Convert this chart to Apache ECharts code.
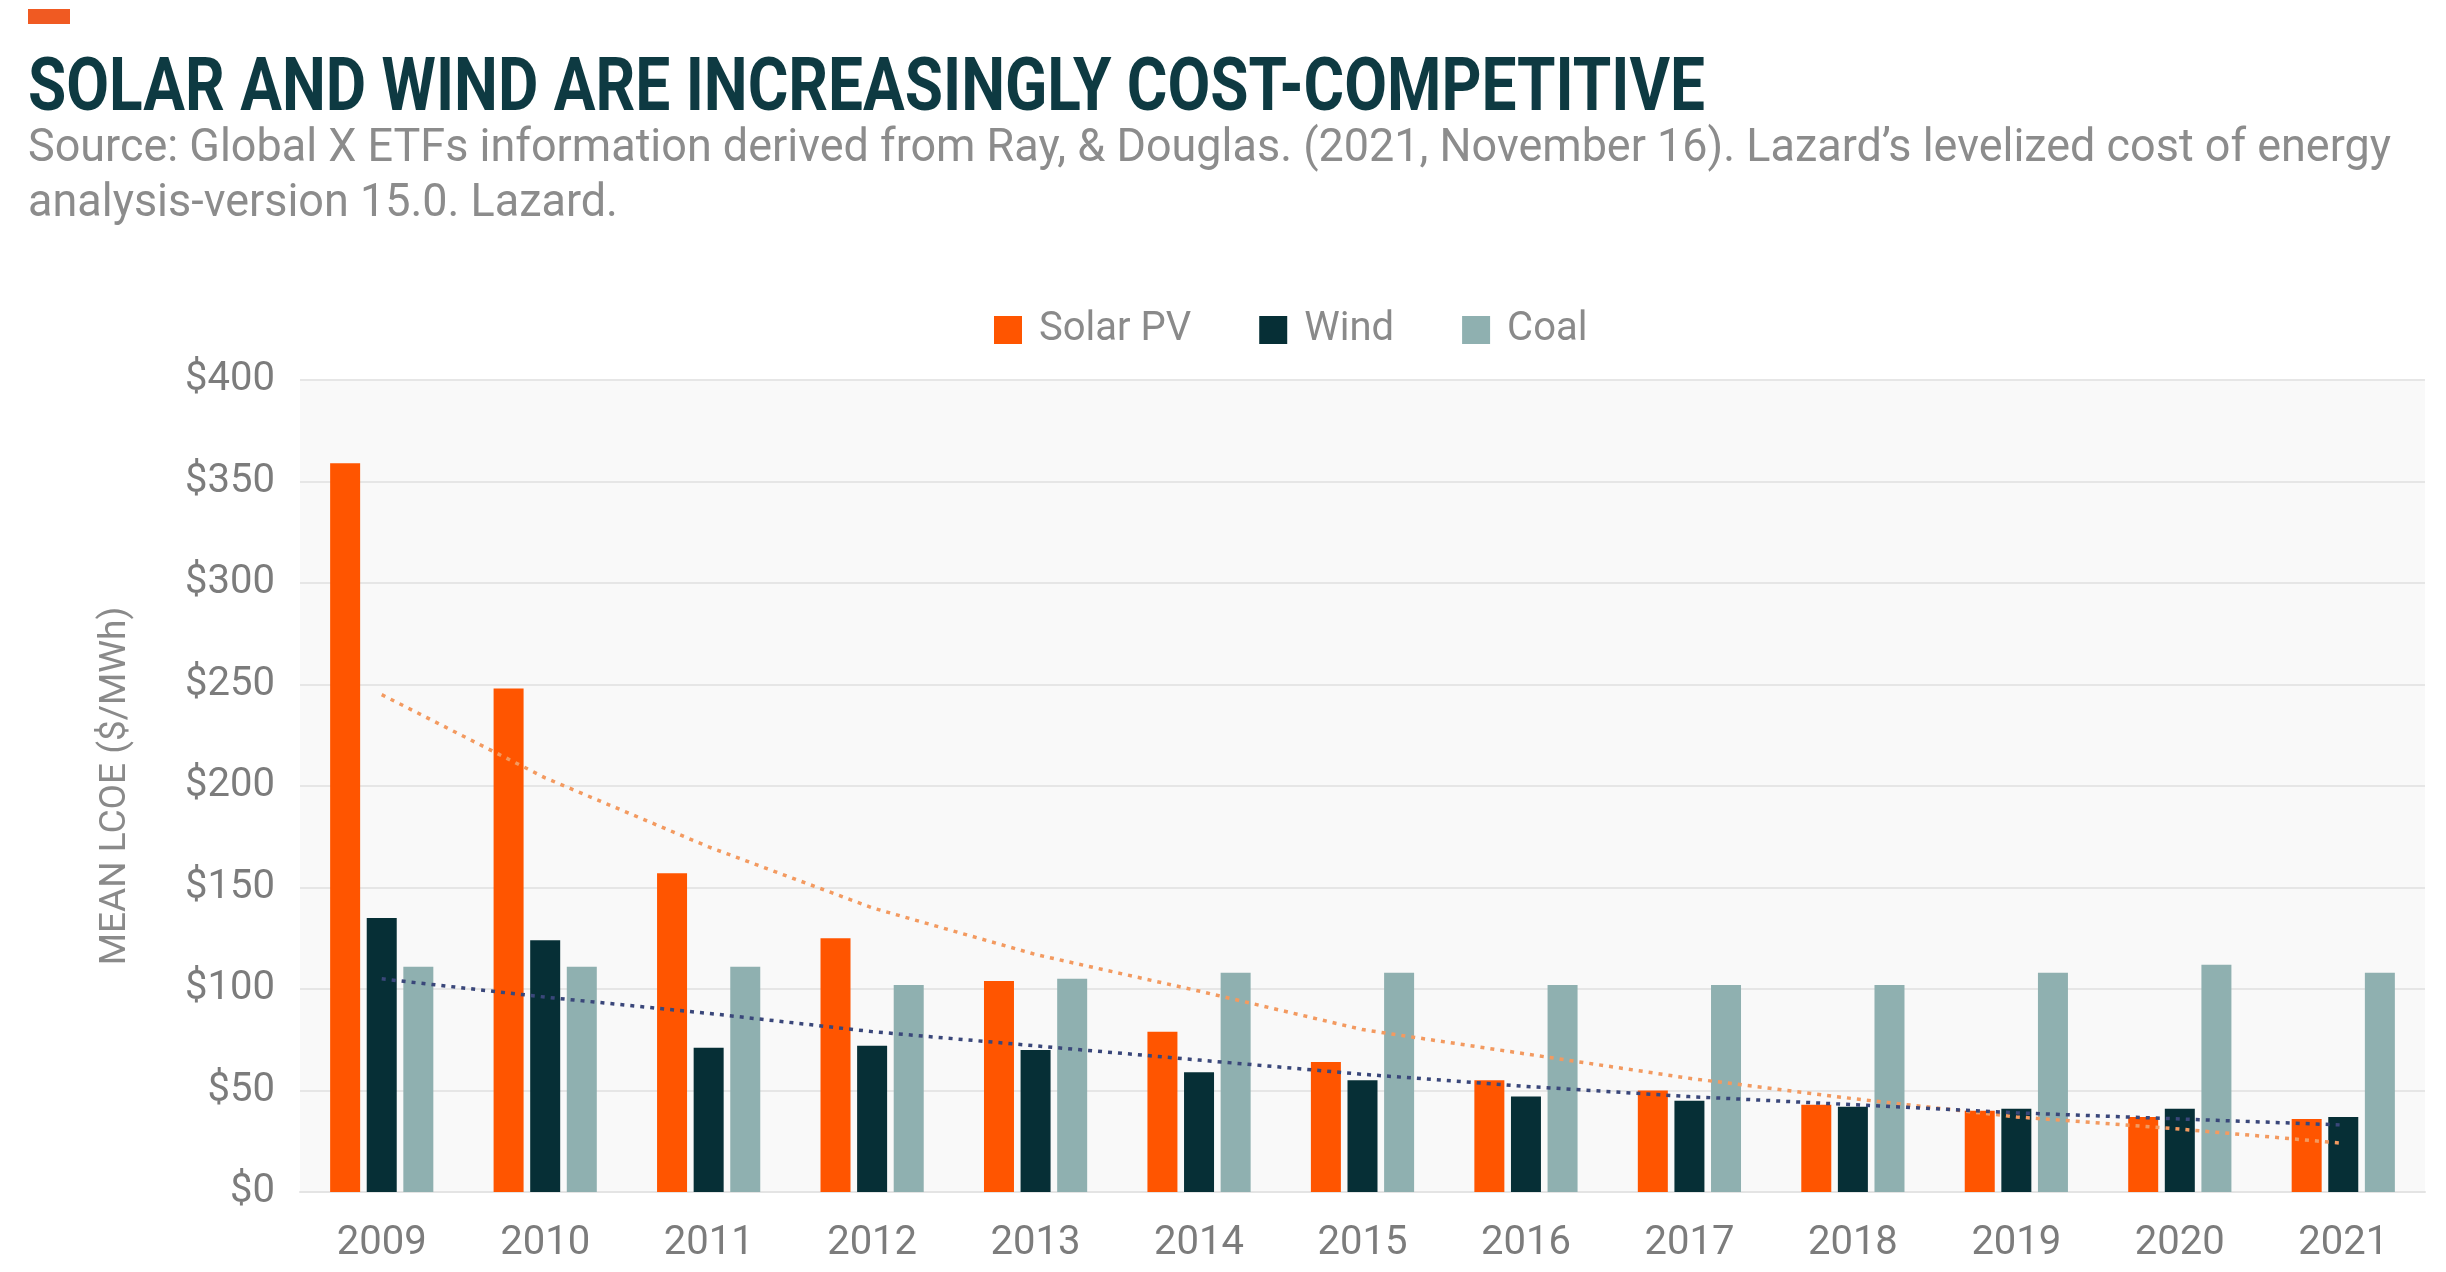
<!DOCTYPE html>
<html><head><meta charset="utf-8">
<script src="https://cdn.jsdelivr.net/npm/echarts@6/dist/echarts.min.js"></script>
<style>html,body{margin:0;padding:0;background:#fff}#c{width:2446px;height:1272px}</style>
</head><body><div id="c"></div>
<script>
const years = ['2009','2010','2011','2012','2013','2014','2015','2016','2017','2018','2019','2020','2021'];
const solarPV = [359, 248, 157, 125, 104, 79, 64, 55, 50, 43, 40, 37, 36];
const wind    = [135, 124, 71, 72, 70, 59, 55, 47, 45, 42, 41, 41, 37];
const coal    = [111, 111, 111, 102, 105, 108, 108, 102, 102, 102, 108, 112, 108];
const solarTrend = [245, 204, 170, 140, 117, 99, 80, 68, 56, 46, 37, 31, 24];
const windTrend  = [105, 96, 88, 79, 72, 65, 58, 52, 47, 43, 39, 36, 33];
const yTicks = { min: 0, max: 400, step: 50 };
const titleText = 'SOLAR AND WIND ARE INCREASINGLY COST-COMPETITIVE';
const sourceLine1 = 'Source: Global X ETFs information derived from Ray, & Douglas. (2021, November 16). Lazard\u2019s levelized cost of energy';
const sourceLine2 = 'analysis-version 15.0. Lazard.';
const yName = 'MEAN LCOE ($/MWh)';

const FF = 'Roboto, "Noto Sans", sans-serif';
function measure(text, font) {
  const ctx = document.createElement('canvas').getContext('2d');
  ctx.font = font;
  return ctx.measureText(text).width;
}
const titleFont = 'bold 74px Roboto';
const subFont = '47px Roboto';
const titleScale = 1677 / measure(titleText, titleFont);
const subScale = 2363 / measure(sourceLine1, subFont);

const chart = echarts.init(document.getElementById('c'));
chart.setOption({
  animation: false,
  backgroundColor: '#ffffff',
  graphic: [
    { type: 'rect', shape: { x: 28, y: 9, width: 42, height: 15 }, style: { fill: '#f05a22' } },
    { type: 'text', x: 28, y: 91, scaleX: titleScale, originX: 0, originY: 0,
      style: { text: titleText, font: titleFont, fill: '#0e3a42', textVerticalAlign: 'middle' } },
    { type: 'text', x: 28, y: 149, scaleX: subScale, originX: 0, originY: 0,
      style: { text: sourceLine1, font: subFont, fill: '#8c8c8c', textVerticalAlign: 'middle' } },
    { type: 'text', x: 28, y: 204, scaleX: subScale, originX: 0, originY: 0,
      style: { text: sourceLine2, font: subFont, fill: '#8c8c8c', textVerticalAlign: 'middle' } }
  ],
  legend: {
    data: ['Solar PV', 'Wind', 'Coal'],
    left: 989, top: 305,
    icon: 'rect', itemWidth: 28, itemHeight: 28, itemGap: 68,
    textStyle: { fontSize: 40, color: '#8a8a8a', fontFamily: FF, padding: [0, 0, 0, 12] }
  },
  grid: { left: 300, right: 21, top: 380, bottom: 80, show: true, backgroundColor: '#f9f9f9', borderWidth: 0 },
  xAxis: {
    type: 'category', data: years,
    axisLine: { show: true, lineStyle: { color: '#e4e4e4', width: 2 } },
    axisTick: { show: false },
    axisLabel: { fontSize: 40, color: '#7c7c7c', margin: 32, fontFamily: FF }
  },
  yAxis: {
    type: 'value', min: yTicks.min, max: yTicks.max, interval: yTicks.step,
    axisLine: { show: false }, axisTick: { show: false },
    axisLabel: { fontSize: 40, color: '#7c7c7c', margin: 25, fontFamily: FF, formatter: v => '$' + v },
    splitLine: { lineStyle: { color: '#e6e6e6', width: 2 } },
    name: yName, nameLocation: 'middle', nameGap: 166, nameRotate: 90,
    nameTextStyle: { fontSize: 37, color: '#8a8a8a', fontFamily: FF }
  },
  series: [
    { name: 'Solar PV', type: 'bar', data: solarPV, barWidth: 30, barGap: '22%', itemStyle: { color: '#ff5500' } },
    { name: 'Wind', type: 'bar', data: wind, barWidth: 30, barGap: '22%', itemStyle: { color: '#062f36' } },
    { name: 'Coal', type: 'bar', data: coal, barWidth: 30, barGap: '22%', itemStyle: { color: '#8fb0b0' } },
    { name: 'Solar trend', type: 'line', data: solarTrend, symbol: 'none', silent: true, z: 5,
      lineStyle: { color: '#f39a60', width: 3.5, type: [4, 6] } },
    { name: 'Wind trend', type: 'line', data: windTrend, symbol: 'none', silent: true, z: 5,
      lineStyle: { color: '#3a477a', width: 3.5, type: [4, 6] } }
  ]
});
</script></body></html>
